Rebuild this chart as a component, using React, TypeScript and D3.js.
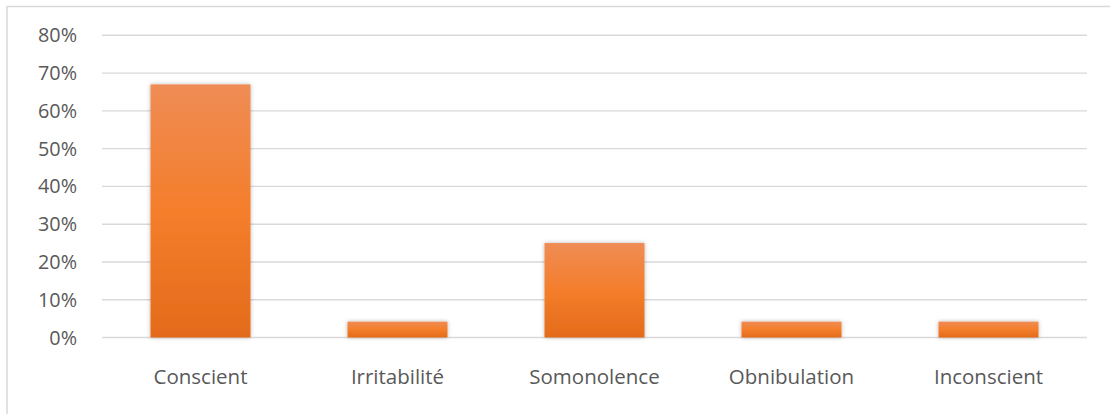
import React from "react";
import * as d3 from "d3";

// État de conscience des patients (part en %)
const categories: string[] = ["Conscient", "Irritabilité", "Somonolence", "Obnibulation", "Inconscient"];
const values: number[] = [0.67, 0.042, 0.25, 0.042, 0.042];
const yTicks: number[] = [0, 0.1, 0.2, 0.3, 0.4, 0.5, 0.6, 0.7, 0.8];

const W = 1110;
const H = 414;
const FONT = "'Open Sans', 'Noto Sans', sans-serif";
const TEXT = "#595959";
const GRID = "#d9d9d9";

export default function App() {
  const x = d3
    .scaleBand<string>()
    .domain(categories)
    .range([102, 1087])
    .paddingInner(0.4924)
    .paddingOuter(0.2462);
  const y = d3.scaleLinear().domain([0, 0.8]).range([337.5, 35.3]);
  const fmt = d3.format(".0%");

  return (
    <svg
      width={W}
      height={H}
      style={{ position: "absolute", left: 0, top: 0, display: "block", background: "#fff" }}
    >
      <defs>
        <linearGradient id="barFill" x1="0" y1="0" x2="0" y2="1">
          <stop offset="0%" stopColor="#EF8C55" />
          <stop offset="50%" stopColor="#F47E2B" />
          <stop offset="100%" stopColor="#E36B1B" />
        </linearGradient>
        <filter id="barShadow" x="-20%" y="-20%" width="140%" height="140%">
          <feDropShadow dx="0" dy="0" stdDeviation="2.2" floodColor="#000" floodOpacity="0.28" />
        </filter>
      </defs>

      {/* chart frame */}
      <rect x={7} y={6.5} width={W + 20} height={H + 20} fill="none" stroke={GRID} strokeWidth={1.5} />

      {/* horizontal gridlines */}
      {yTicks.map((t) => (
        <line
          key={`g${t}`}
          x1={102}
          x2={1087}
          y1={y(t)}
          y2={y(t)}
          stroke={GRID}
          strokeWidth={1.4}
        />
      ))}

      {/* y-axis tick labels */}
      {yTicks.map((t) => (
        <text
          key={`t${t}`}
          x={77}
          y={y(t) + 7}
          textAnchor="end"
          fontFamily={FONT}
          fontSize={19.8}
          fill={TEXT}
        >
          {fmt(t)}
        </text>
      ))}

      {/* bars */}
      {categories.map((c, i) => (
        <rect
          key={c}
          x={x(c)}
          y={y(values[i])}
          width={x.bandwidth()}
          height={y(0) - y(values[i])}
          fill="url(#barFill)"
          filter="url(#barShadow)"
        />
      ))}

      {/* category labels */}
      {categories.map((c) => (
        <text
          key={`l${c}`}
          x={(x(c) ?? 0) + x.bandwidth() / 2}
          y={383.5}
          textAnchor="middle"
          fontFamily={FONT}
          fontSize={20.5}
          fill={TEXT}
        >
          {c}
        </text>
      ))}
    </svg>
  );
}
